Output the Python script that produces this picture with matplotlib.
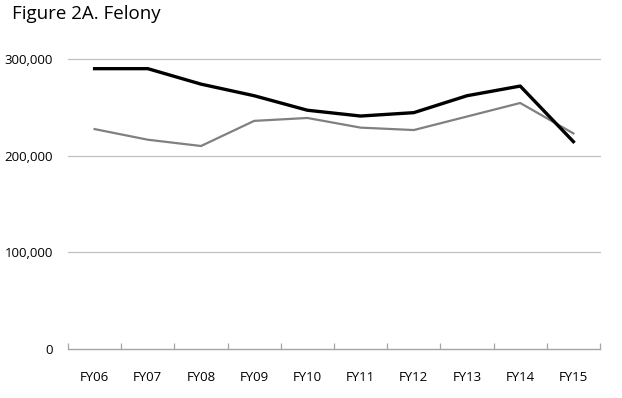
import numpy as np
import matplotlib.pyplot as plt
from matplotlib.ticker import FuncFormatter, FixedLocator

plt.rcParams['font.family'] = ['Open Sans', 'DejaVu Sans']

years = ["FY06", "FY07", "FY08", "FY09", "FY10", "FY11", "FY12", "FY13", "FY14", "FY15"]
black_series = [290000, 290000, 274000, 262000, 247000, 241000, 244500, 262000, 272000, 214500]
gray_series = [227500, 216500, 210000, 236000, 239000, 229000, 226500, 240500, 254500, 223000]

fig = plt.figure(figsize=(6.22, 3.98), dpi=100)
ax = fig.add_axes([68/622, 49/398, 532/622, 290/398])

x = np.arange(len(years))
ax.plot(x, gray_series, color="#808080", lw=1.6, zorder=3)
ax.plot(x, black_series, color="black", lw=2.4, zorder=4)

ax.set_xlim(-0.5, len(years) - 0.5)
ax.set_ylim(0, 300000)
ax.set_yticks([0, 100000, 200000, 300000])
ax.yaxis.set_major_formatter(FuncFormatter(lambda v, p: f"{int(v):,}"))
ax.grid(axis="y", color="#c0c0c0", lw=0.9)
ax.set_axisbelow(True)
for g in ax.get_ygridlines():
    g.set_clip_on(False)

for s in ["top", "right", "left"]:
    ax.spines[s].set_visible(False)
ax.spines["bottom"].set_color("#a6a6a6")
ax.spines["bottom"].set_linewidth(0.9)

ax.set_xticks(x)
ax.set_xticklabels(years)
ax.xaxis.set_minor_locator(FixedLocator(np.arange(-0.5, len(years), 1)))
ax.tick_params(axis="x", which="major", length=0, pad=16, labelsize=9.5)
ax.tick_params(axis="x", which="minor", length=4, direction="in", color="#a6a6a6", width=0.9)
ax.tick_params(axis="y", length=0, pad=11, labelsize=9.5)

fig.text(12/622, 1 - 14/398, "Figure 2A. Felony", fontsize=13.5, va="center", ha="left")

fig.savefig("out.png", dpi=100)
